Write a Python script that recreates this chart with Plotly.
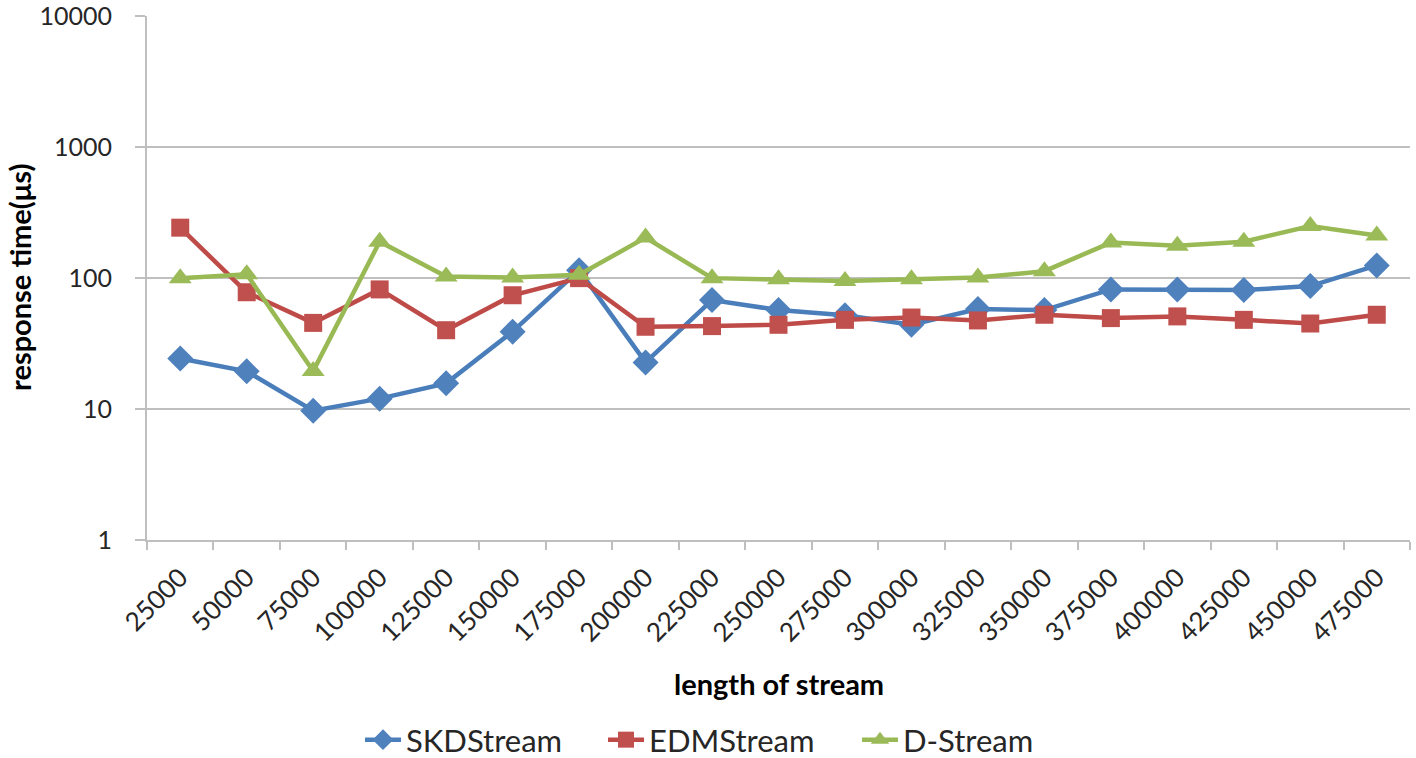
import plotly.graph_objects as go

categories = ["25000", "50000", "75000", "100000", "125000", "150000", "175000",
              "200000", "225000", "250000", "275000", "300000", "325000", "350000",
              "375000", "400000", "425000", "450000", "475000"]

skdstream = [24.3, 19.4, 9.7, 12.0, 15.7, 39, 115, 22.7, 68, 57, 52, 44, 58, 57,
             82, 82, 81, 87, 125]
edmstream = [243, 78, 45.5, 82, 40, 74, 100, 42.5, 43, 44, 48, 50, 47.5, 52.5,
             49.5, 51, 48, 45, 52.5]
dstream = [100, 107, 19.5, 190, 103, 101, 106, 204, 100, 98, 95, 98, 101, 113,
           187, 177, 190, 250, 212]

y_tickvals = [1, 10, 100, 1000, 10000]
y_ticktext = ["1", "10", "100", "1000", "10000"]

FONT = "Lato, 'Liberation Sans', sans-serif"
GRID = "#BFBFBF"

L, R, T, B = 147, 6, 16, 218
W, H = 1416, 758
PW, PH = W - L - R, H - T - B

fig = go.Figure()
series = [
    ("SKDStream", skdstream, "#4A7EBB", "#4F81BD", "diamond", 20, "legend", 360),
    ("EDMStream", edmstream, "#BE4B48", "#C0504D", "square", 18, "legend2", 603),
    ("D-Stream", dstream, "#98B954", "#9BBB59", "triangle-up", 20, "legend3", 857),
]
legends = {}
for name, vals, lc, mc, sym, size, lg, lx in series:
    fig.add_trace(go.Scatter(
        x=categories, y=vals, name=name, mode="lines+markers",
        line=dict(color=lc, width=4.5), legend=lg,
        marker=dict(symbol=sym, size=size, color=mc, line=dict(width=0)),
    ))
    legends[lg] = dict(orientation="h", x=(lx - L) / PW, xanchor="left",
                       y=(H - B - 740) / PH, yanchor="middle",
                       font=dict(size=31, color="#262626"), itemwidth=36,
                       entrywidth=210, bgcolor="rgba(0,0,0,0)")

fig.update_layout(
    width=W, height=H,
    margin=dict(l=L, r=R, t=T, b=B, autoexpand=False),
    paper_bgcolor="white", plot_bgcolor="white",
    font=dict(family=FONT, size=24, color="#262626"),
    showlegend=True,
    xaxis=dict(
        type="category", showgrid=False, showline=True, linecolor=GRID, linewidth=2,
        ticks="outside", ticklen=8, tickcolor=GRID, tickwidth=2, tickson="boundaries",
        tickangle=-45, tickfont=dict(size=26, color="#262626"), ticklabelstandoff=10,
        range=[-0.5, 18.5], automargin=False,
    ),
    yaxis=dict(
        type="log", range=[-0.001, 4.003], tickvals=y_tickvals, ticktext=y_ticktext,
        showgrid=True, gridcolor=GRID, gridwidth=2, showline=True, linecolor=GRID, linewidth=2,
        ticks="outside", ticklen=10, tickcolor=GRID, tickwidth=2,
        tickfont=dict(size=25, color="#262626"), ticklabelstandoff=18, zeroline=False,
        automargin=False, ticklabeloverflow="allow",
    ),
    annotations=[
        dict(text="<b>length of stream</b>", xref="paper", yref="paper",
             x=(779 - L) / PW, y=(H - B - 683) / PH, xanchor="center", yanchor="middle",
             showarrow=False, font=dict(size=29, color="#000000")),
        dict(text="<b>response time(μs)</b>", xref="paper", yref="paper",
             x=(19 - L) / PW, y=(H - B - 278) / PH, xanchor="center", yanchor="middle",
             textangle=-90, showarrow=False, font=dict(size=29, color="#000000")),
    ],
)
fig.update_layout(**legends)

fig.write_html("out.html", config={"displayModeBar": False},
               post_script="document.body.style.margin='0';")
